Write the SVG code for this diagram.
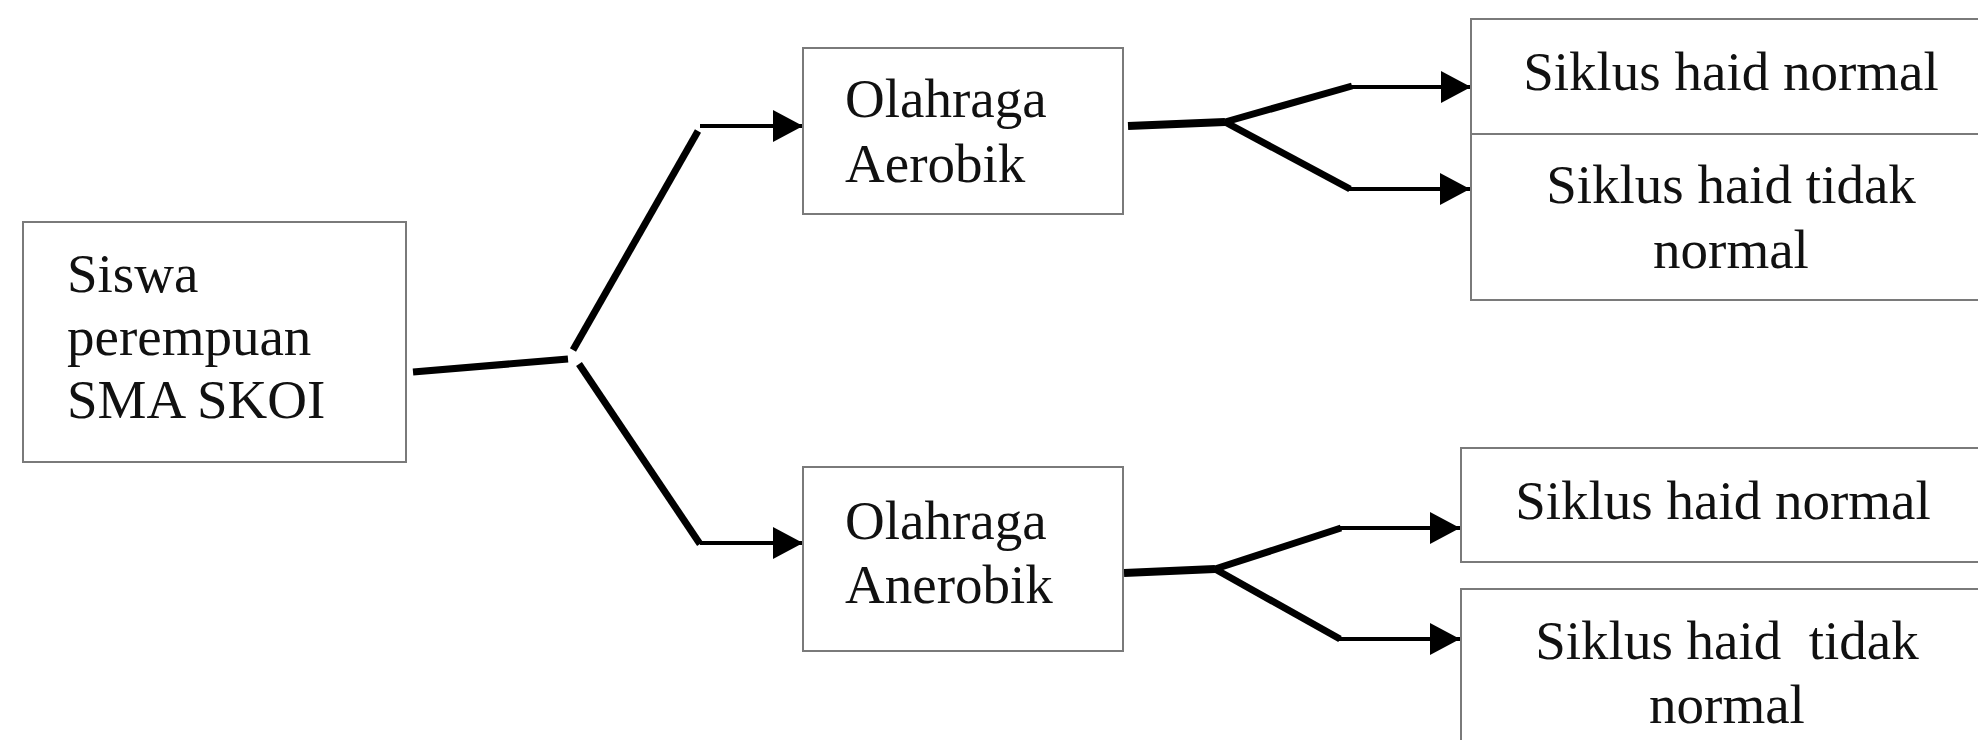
<svg xmlns="http://www.w3.org/2000/svg" width="1978" height="740" viewBox="0 0 1978 740">
  <style>
    .box { fill: #ffffff; stroke: #7a7a7a; stroke-width: 2; }
    .txt { font-family: "Liberation Serif", "Times New Roman", serif; font-size: 55px; fill: #111111; white-space: pre; }
    .mid { text-anchor: middle; }
    .thick { fill: none; stroke: #000000; stroke-width: 7; stroke-linecap: butt; }
    .thin { fill: none; stroke: #000000; stroke-width: 4; }
  </style>
  <defs>
    <marker id="arrow" markerUnits="userSpaceOnUse" markerWidth="30" markerHeight="32" refX="30" refY="16" orient="auto" viewBox="0 0 30 32">
      <path d="M0,0 L30,16 L0,32 Z" fill="#000000"/>
    </marker>
  </defs>
  <rect width="1978" height="740" fill="#ffffff"/>

  <g id="connectors">
    <!-- from Siswa -->
    <path class="thick" d="M413,372 L568,359"/>
    <path class="thick" d="M573,350 L698,131"/>
    <path class="thick" d="M579,364 L700,544"/>
    <path class="thin" d="M700,126 L803,126" marker-end="url(#arrow)"/>
    <path class="thin" d="M700,543 L803,543" marker-end="url(#arrow)"/>
    <!-- from Aerobik -->
    <path class="thick" d="M1128,126 L1225,122" style="stroke-width:8"/>
    <path class="thick" d="M1225,122 L1352,86"/>
    <path class="thick" d="M1225,122 L1350,189"/>
    <path class="thin" d="M1350,87 L1471,87" marker-end="url(#arrow)"/>
    <path class="thin" d="M1348,189 L1470,189" marker-end="url(#arrow)"/>
    <!-- from Anerobik -->
    <path class="thick" d="M1124,573 L1215,569" style="stroke-width:8"/>
    <path class="thick" d="M1215,569 L1341,528"/>
    <path class="thick" d="M1215,569 L1340,639"/>
    <path class="thin" d="M1339,528 L1460,528" marker-end="url(#arrow)"/>
    <path class="thin" d="M1338,639 L1460,639" marker-end="url(#arrow)"/>
  </g>

  <g id="node-siswa">
    <rect class="box" x="23" y="222" width="383" height="240"/>
    <text class="txt" x="67" y="292">Siswa</text>
    <text class="txt" x="67" y="355">perempuan</text>
    <text class="txt" x="67" y="418">SMA SKOI</text>
  </g>

  <g id="node-aerobik">
    <rect class="box" x="803" y="48" width="320" height="166"/>
    <text class="txt" x="845" y="117">Olahraga</text>
    <text class="txt" x="845" y="182">Aerobik</text>
  </g>

  <g id="node-anerobik">
    <rect class="box" x="803" y="467" width="320" height="184"/>
    <text class="txt" x="845" y="539">Olahraga</text>
    <text class="txt" x="845" y="603">Anerobik</text>
  </g>

  <g id="node-aerobik-normal">
    <rect class="box" x="1471" y="19" width="530" height="115"/>
    <text class="txt mid" x="1731" y="90">Siklus haid normal</text>
  </g>

  <g id="node-aerobik-tidak">
    <rect class="box" x="1471" y="134" width="530" height="166"/>
    <text class="txt mid" x="1731" y="203">Siklus haid tidak</text>
    <text class="txt mid" x="1731" y="268">normal</text>
  </g>

  <g id="node-anerobik-normal">
    <rect class="box" x="1461" y="448" width="540" height="114"/>
    <text class="txt mid" x="1723" y="519">Siklus haid normal</text>
  </g>

  <g id="node-anerobik-tidak">
    <rect class="box" x="1461" y="589" width="540" height="170"/>
    <text class="txt mid" x="1727" y="659" xml:space="preserve">Siklus haid  tidak</text>
    <text class="txt mid" x="1727" y="723">normal</text>
  </g>
</svg>
